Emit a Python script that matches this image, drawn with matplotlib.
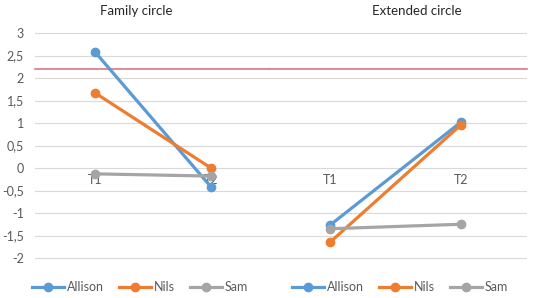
import matplotlib.pyplot as plt
from matplotlib.ticker import FuncFormatter
from matplotlib.lines import Line2D

plt.rcParams['font.family'] = ['Lato', 'DejaVu Sans']

times = ["T1", "T2"]
names = ["Allison", "Nils", "Sam"]
colors = ["#5B9BD5", "#ED7D31", "#A5A5A5"]

family_allison = [2.58, -0.42]
family_nils = [1.67, 0.0]
family_sam = [-0.13, -0.18]

extended_allison = [-1.27, 1.02]
extended_nils = [-1.65, 0.96]
extended_sam = [-1.35, -1.25]

reference_level = 2.19

panels = [
    ("Family circle", [family_allison, family_nils, family_sam]),
    ("Extended circle", [extended_allison, extended_nils, extended_sam]),
]

W, H = 536, 298
fig = plt.figure(figsize=(W / 100, H / 100), dpi=100)

# pixel boxes of the two plot areas (left, right) and their x limits
boxes = [(35, 270), (270, 527)]
xlims = [(-0.517, 1.509), (-0.458, 1.504)]
title_x = [136, 417]
legend_x = [140, 400]
top_px, bot_px = 28.5, 267

grey_text = "#595959"
comma = FuncFormatter(lambda v, p: f"{v:g}".replace(".", ","))

for i, ((title, series), (x0, x1)) in enumerate(zip(panels, boxes)):
    ax = fig.add_axes([x0 / W, 1 - bot_px / H, (x1 - x0) / W, (bot_px - top_px) / H])
    ax.set_xlim(*xlims[i])
    ax.set_ylim(-2.2, 3.1)
    ax.set_yticks([-2, -1.5, -1, -0.5, 0, 0.5, 1, 1.5, 2, 2.5, 3])
    ax.yaxis.set_major_formatter(comma)
    ax.grid(axis="y", color="#D9D9D9", lw=0.8)
    ax.set_axisbelow(True)
    for s in ax.spines.values():
        s.set_visible(False)
    ax.spines["bottom"].set_position(("data", 0))
    ax.set_xticks(range(len(times)))
    ax.set_xticklabels(times)
    ax.tick_params(axis="both", length=0, labelsize=9, labelcolor=grey_text)
    ax.tick_params(axis="y", pad=8)
    ax.tick_params(axis="x", pad=4)
    if i == 1:
        ax.tick_params(axis="y", labelleft=False)

    for name, vals, c in zip(names, series, colors):
        ax.plot(range(len(times)), vals, color=c, lw=2.3, marker="o",
                markersize=6, label=name, zorder=3)

    ax.axhline(reference_level, color="#D96A77", lw=1.1, zorder=2, clip_on=False)

    fig.text(title_x[i] / W, 1 - 11 / H, title, ha="center", va="center",
             fontsize=9.5, color="#262626")

    handles = [Line2D([0], [0], color=c, lw=2.3, marker="o", markersize=6)
               for c in colors]
    fig.legend(handles, names, loc="center", ncol=3, frameon=False,
               bbox_to_anchor=(legend_x[i] / W, 1 - 287 / H),
               fontsize=9, labelcolor=grey_text, handlelength=2.6,
               handletextpad=0.2, columnspacing=1.2)

fig.savefig("out.png", dpi=100)
